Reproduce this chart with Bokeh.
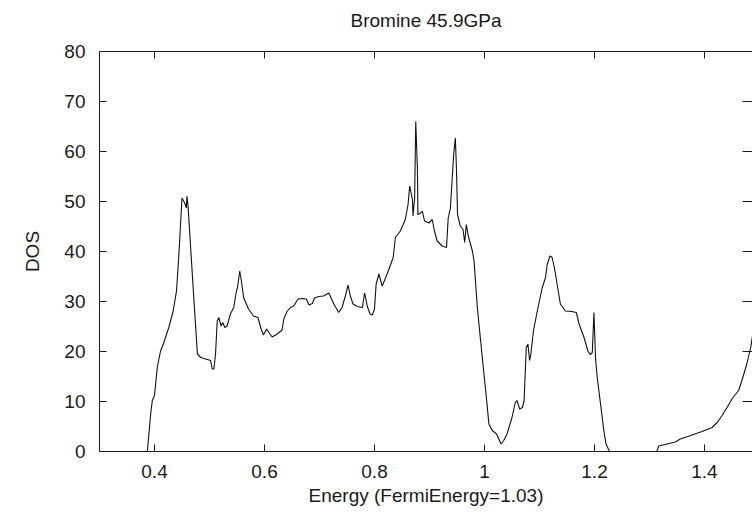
from bokeh.plotting import figure
from bokeh.layouts import column
from bokeh.models import Range1d, LinearAxis, FixedTicker, CustomLabelingPolicy
from bokeh.embed import file_html
from bokeh.resources import INLINE

# ---- data ----
energy = [0.300, 0.387, 0.393, 0.396, 0.400, 0.405, 0.411, 0.417, 0.426, 0.434,
          0.440, 0.444, 0.450, 0.455, 0.458, 0.459, 0.461, 0.465, 0.471, 0.478,
          0.484, 0.493, 0.502, 0.505, 0.508, 0.511, 0.514, 0.517, 0.521, 0.524,
          0.528, 0.532, 0.538, 0.544, 0.549, 0.551, 0.555, 0.558, 0.562, 0.571,
          0.580, 0.588, 0.593, 0.598, 0.604, 0.608, 0.614, 0.623, 0.632, 0.635,
          0.641, 0.647, 0.653, 0.661, 0.669, 0.676, 0.681, 0.687, 0.691, 0.699,
          0.707, 0.717, 0.726, 0.735, 0.741, 0.747, 0.752, 0.756, 0.761, 0.769,
          0.778, 0.782, 0.787, 0.792, 0.796, 0.800, 0.803, 0.808, 0.814, 0.823,
          0.834, 0.838, 0.847, 0.856, 0.861, 0.864, 0.869, 0.870, 0.873, 0.875,
          0.878, 0.879, 0.884, 0.887, 0.891, 0.899, 0.905, 0.909, 0.914, 0.923,
          0.931, 0.934, 0.938, 0.941, 0.944, 0.947, 0.949, 0.951, 0.956, 0.961,
          0.964, 0.967, 0.970, 0.973, 0.978, 0.981, 0.987, 0.993, 0.999, 1.004,
          1.008, 1.014, 1.022, 1.026, 1.030, 1.035, 1.041, 1.050, 1.056, 1.059,
          1.064, 1.069, 1.072, 1.076, 1.079, 1.082, 1.084, 1.089, 1.096, 1.105,
          1.111, 1.114, 1.119, 1.123, 1.127, 1.132, 1.138, 1.147, 1.159, 1.167,
          1.172, 1.181, 1.188, 1.192, 1.196, 1.199, 1.202, 1.205, 1.211, 1.217,
          1.221, 1.226, 1.228, 1.313, 1.317, 1.332, 1.347, 1.356, 1.375, 1.393,
          1.414, 1.423, 1.432, 1.441, 1.450, 1.462, 1.468, 1.477, 1.484, 1.490]
dos = [0.0, 0.0, 7.5, 10.2, 11.2, 16.8, 20.1, 21.8, 24.8, 28.1,
       32.1, 38.8, 50.7, 49.7, 48.7, 51.1, 49.1, 42.1, 31.5, 19.5,
       18.8, 18.5, 18.2, 16.5, 16.5, 19.5, 26.1, 26.8, 25.1, 25.8,
       24.8, 25.1, 27.5, 28.8, 32.1, 32.8, 36.1, 34.1, 30.8, 28.5,
       27.1, 26.8, 24.8, 23.3, 24.5, 23.8, 22.9, 23.5, 24.3, 26.5,
       28.0, 28.8, 29.1, 30.5, 30.6, 30.5, 29.3, 29.6, 30.7, 31.0,
       31.1, 31.7, 29.5, 27.8, 28.8, 31.1, 33.3, 31.1, 29.5, 29.0,
       28.8, 31.7, 29.0, 27.5, 27.3, 28.5, 33.5, 35.5, 33.1, 35.5,
       38.8, 42.8, 44.1, 46.4, 49.4, 53.1, 50.4, 47.1, 50.7, 66.0,
       56.7, 47.4, 47.7, 48.1, 46.1, 45.7, 46.4, 44.1, 42.1, 41.1,
       40.8, 46.7, 48.7, 54.1, 59.4, 62.7, 56.7, 47.4, 45.1, 44.4,
       41.8, 45.4, 43.4, 42.1, 40.1, 38.1, 28.8, 22.1, 15.5, 10.2,
       5.5, 4.2, 3.5, 2.5, 1.5, 2.2, 3.5, 6.8, 9.8, 10.2,
       8.5, 8.8, 10.2, 20.8, 21.5, 18.2, 19.2, 24.1, 28.1, 32.8,
       34.8, 37.4, 39.1, 38.8, 36.8, 33.5, 29.5, 28.1, 28.0, 27.8,
       25.5, 22.8, 20.1, 19.4, 19.8, 27.8, 18.5, 14.8, 9.5, 4.2,
       1.5, 0.3, 0.0, 0.0, 1.1, 1.5, 1.9, 2.5, 3.2, 3.9,
       4.8, 5.8, 7.2, 8.8, 10.5, 12.2, 14.2, 17.5, 20.8, 25.0]

x_tick_values = [0.4, 0.6, 0.8, 1.0, 1.2, 1.4]
x_tick_labels = ["0.4", "0.6", "0.8", "1", "1.2", "1.4"]
y_tick_values = [0, 10, 20, 30, 40, 50, 60, 70, 80]
y_inner_ticks = [10, 20, 30, 40, 50, 60, 70]

title_text = "Bromine 45.9GPa"
x_label = "Energy (FermiEnergy=1.03)"
y_label = "DOS"

FONT = "Liberation Sans"
FS = "19px"
INK = "#1a1a1a"

TITLE_H = 39

# ---- a thin strip that carries only the title ----
t = figure(width=752, height=TITLE_H, output_backend="svg", toolbar_location=None,
           x_axis_location=None, y_axis_location=None,
           min_border_left=99, min_border_right=0, min_border_top=0, min_border_bottom=0)
t.outline_line_color = None
t.xgrid.visible = False
t.ygrid.visible = False
t.border_fill_color = "white"
t.background_fill_color = "white"
t.title.text = title_text
t.title.align = "center"
t.title.text_font = FONT
t.title.text_font_size = FS
t.title.text_font_style = "normal"
t.title.text_color = INK
t.title.standoff = 14

# ---- the DOS plot ----
p = figure(width=752, height=516 - TITLE_H, output_backend="svg", toolbar_location=None,
           x_range=Range1d(0.3, 1.4873), y_range=Range1d(0, 80),
           x_axis_location=None, y_axis_location=None,
           min_border_left=99, min_border_right=0,
           min_border_top=51 - TITLE_H, min_border_bottom=65)
p.outline_line_color = None
p.xgrid.visible = False
p.ygrid.visible = False
p.background_fill_color = "white"
p.border_fill_color = "white"


def style_axis(ax):
    ax.axis_line_color = INK
    ax.axis_line_width = 1
    ax.major_tick_line_color = INK
    ax.major_tick_in = 7
    ax.major_tick_out = 0
    ax.minor_tick_line_color = None
    ax.major_label_text_font = FONT
    ax.major_label_text_font_size = FS
    ax.major_label_text_color = INK
    ax.axis_label_text_font = FONT
    ax.axis_label_text_font_size = FS
    ax.axis_label_text_font_style = "normal"
    ax.axis_label_text_color = INK


def no_labels():
    return CustomLabelingPolicy(code="""
        for (const i of Array.from(indices)) { indices.unset(i) }
        return indices
    """)


xb = LinearAxis(ticker=FixedTicker(ticks=x_tick_values),
                major_label_overrides={v: s for v, s in zip(x_tick_values, x_tick_labels)},
                axis_label=x_label)
style_axis(xb)
xb.major_label_standoff = 13
xb.axis_label_standoff = 4
p.add_layout(xb, "below")

yl = LinearAxis(ticker=FixedTicker(ticks=y_tick_values), axis_label=y_label)
style_axis(yl)
yl.major_label_standoff = 14
yl.axis_label_standoff = 18
p.add_layout(yl, "left")

xt = LinearAxis(ticker=FixedTicker(ticks=x_tick_values), major_label_policy=no_labels())
style_axis(xt)
xt.major_label_text_font_size = "0px"
xt.major_label_standoff = 0
p.add_layout(xt, "above")

yr = LinearAxis(ticker=FixedTicker(ticks=y_inner_ticks), major_label_policy=no_labels())
style_axis(yr)
yr.axis_line_color = None
yr.major_tick_in = 10
yr.major_label_text_font_size = "0px"
yr.major_label_standoff = 0
p.add_layout(yr, "right")

p.line(energy, dos, line_color="#111111", line_width=1.1)

layout = column(t, p, spacing=0)
open("out.html", "w").write(file_html(layout, INLINE))
